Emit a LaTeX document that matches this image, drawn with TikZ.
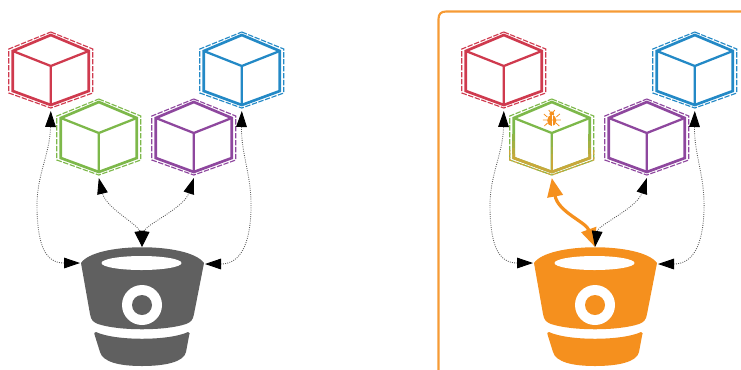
\documentclass[tikz,border=0pt]{standalone}
\usetikzlibrary{arrows.meta}
\definecolor{cred}{HTML}{CF3A4E}
\definecolor{cgreen}{HTML}{7DB84A}
\definecolor{cpurple}{HTML}{8E479E}
\definecolor{cblue}{HTML}{2389C6}
\definecolor{corange}{HTML}{F5901E}
\definecolor{cgrey}{HTML}{606060}
\definecolor{cgold}{HTML}{C9A83A}
\tikzset{
  cubeline/.style={line width=2pt,line join=miter},
  cubeinner/.style={line width=1.7pt},
  halo/.style={line width=0.85pt,dash pattern=on 4pt off 1.2pt},
  conn/.style={densely dotted,line width=0.65pt,black!65,{Triangle[length=12pt,width=8pt,black]}-{Triangle[length=12pt,width=8pt,black]}},
  bugconn/.style={line width=2.4pt,corange,{Triangle[length=14pt,width=11.5pt,corange]}-{Triangle[length=14pt,width=11.5pt,corange]}},
}
% name, cx, cy, colour
\newcommand{\cubeshape}[4]{%
  \begin{scope}[xshift=0.6pt]
  \draw[halo,#4] (#2,#3-34) -- (#2+42,#3-17) -- (#2+42,#3+27) -- (#2,#3+42) -- (#2-42,#3+27) -- (#2-42,#3-17) -- cycle;
  \draw[cubeline,#4] (#2,#3-31) -- (#2+38,#3-15) -- (#2+38,#3+25) -- (#2,#3+39) -- (#2-38,#3+25) -- (#2-38,#3-15) -- cycle;
  \draw[cubeinner,#4] (#2-38,#3-15) -- (#2,#3) -- (#2+38,#3-15) (#2,#3) -- (#2,#3+39);
  \coordinate (#1) at (#2,#3+45);
  \end{scope}
}
% name, shift, colour
\newcommand{\bucketshape}[3]{%
  \begin{scope}[shift={(#2,0)}]
    \fill[#3] (81,263) .. controls (95,242) and (189,242) .. (204,263)
      -- (194,314) .. controls (193,320) and (191,322) .. (186,324)
      .. controls (165,331) and (119,331) .. (98,324)
      .. controls (93,322) and (91,320) .. (90,314) -- cycle;
    \fill[white] (141.5,263) ellipse [x radius=40,y radius=7];
    \fill[white] (142,305) circle (20);
    \fill[#3] (142,305) circle (10);
    \fill[#3] (96,332) .. controls (115,341) and (169,341) .. (188,332)
      .. controls (190,332) and (190,334) .. (189,336) -- (186,352)
      .. controls (184,362) and (165,366) .. (142,366)
      .. controls (119,366) and (103,362) .. (100,352) -- (95,336)
      .. controls (94,333) and (94,332) .. (96,332) -- cycle;
    \coordinate (#1L) at (80,263);
    \coordinate (#1R) at (205,264);
    \coordinate (#1T) at (142,247);
  \end{scope}
}
\begin{document}
\begin{tikzpicture}[x=0.75pt,y=-0.75pt]
\useasboundingbox (0,0) rectangle (741,369);
% frame
\draw[corange!90!white,line width=1.6pt] (800,11.5) -- (446,11.5) .. controls (441,11.5) and (438.5,14) .. (438.5,19) -- (438.5,380);
% left group
\cubeshape{ared}{50}{66}{cred}
\cubeshape{agreen}{98}{133}{cgreen}
\cubeshape{apurple}{193}{133}{cpurple}
\cubeshape{ablue}{241}{66}{cblue}
\bucketshape{ab}{0}{cgrey}
\draw[conn] (abL) .. controls (45,263) and (38,245) .. (37,210) .. controls (36,175) and (50,155) .. (ared);
\draw[conn] (abR) .. controls (240,264) and (250,245) .. (251,210) .. controls (252,175) and (241,155) .. (ablue);
\draw[conn] (abT) .. controls (139,225) and (106,208) .. (agreen);
\draw[conn] (abT) .. controls (145,225) and (184,208) .. (apurple);
% right group
\cubeshape{bred}{503}{66}{cred}
\cubeshape{bgreen}{551}{133}{cgreen}
\cubeshape{bpurple}{646}{133}{cpurple}
\cubeshape{bblue}{694}{66}{cblue}
% colour drifting to gold on the lower part of the bugged cube
\begin{scope}[xshift=0.6pt]
\foreach \ya/\yb/\amt in {134/141/25,141/148/50,148/154/75}{
  \draw[line width=2pt,cgold!\amt!cgreen] (513,\ya) -- (513,\yb) (589,\ya) -- (589,\yb);
  \draw[line width=1.7pt,cgold!\amt!cgreen] (551,\ya+6) -- (551,\yb+6);
}
\draw[line width=2pt,cgold,line join=miter] (513,154) -- (513,158) -- (551,172) -- (589,158) -- (589,154);
\draw[line width=1.7pt,cgold] (551,160) -- (551,171);
\draw[halo,cgold] (509,150) -- (509,160) -- (551,175) -- (593,160) -- (593,150);
% bug
\fill[corange] (551,120.5) ellipse [x radius=4.6,y radius=5.6];
\fill[corange] (551,113.8) circle (2.4);
\draw[white,line width=0.35pt] (551,115) -- (551,126);
\draw[corange,line width=0.6pt] (543,114) -- (546.5,117) (559,114) -- (555.5,117)
  (542,120) -- (560,120) (543.5,126) -- (546.8,123) (558.5,126) -- (555.2,123)
  (549.5,112) -- (548,110) (552.5,112) -- (554,110);
\end{scope}
\bucketshape{bb}{453}{corange}
\draw[conn] (bbL) .. controls (498,263) and (491,245) .. (490,210) .. controls (489,175) and (503,155) .. (bred);
\draw[conn] (bbR) .. controls (693,264) and (703,245) .. (704,210) .. controls (705,175) and (694,155) .. (bblue);
\draw[bugconn] (bbT) .. controls (586,222) and (558,212) .. (bgreen);
\draw[conn] (bbT) .. controls (598,225) and (637,208) .. (bpurple);
\end{tikzpicture}
\end{document}
